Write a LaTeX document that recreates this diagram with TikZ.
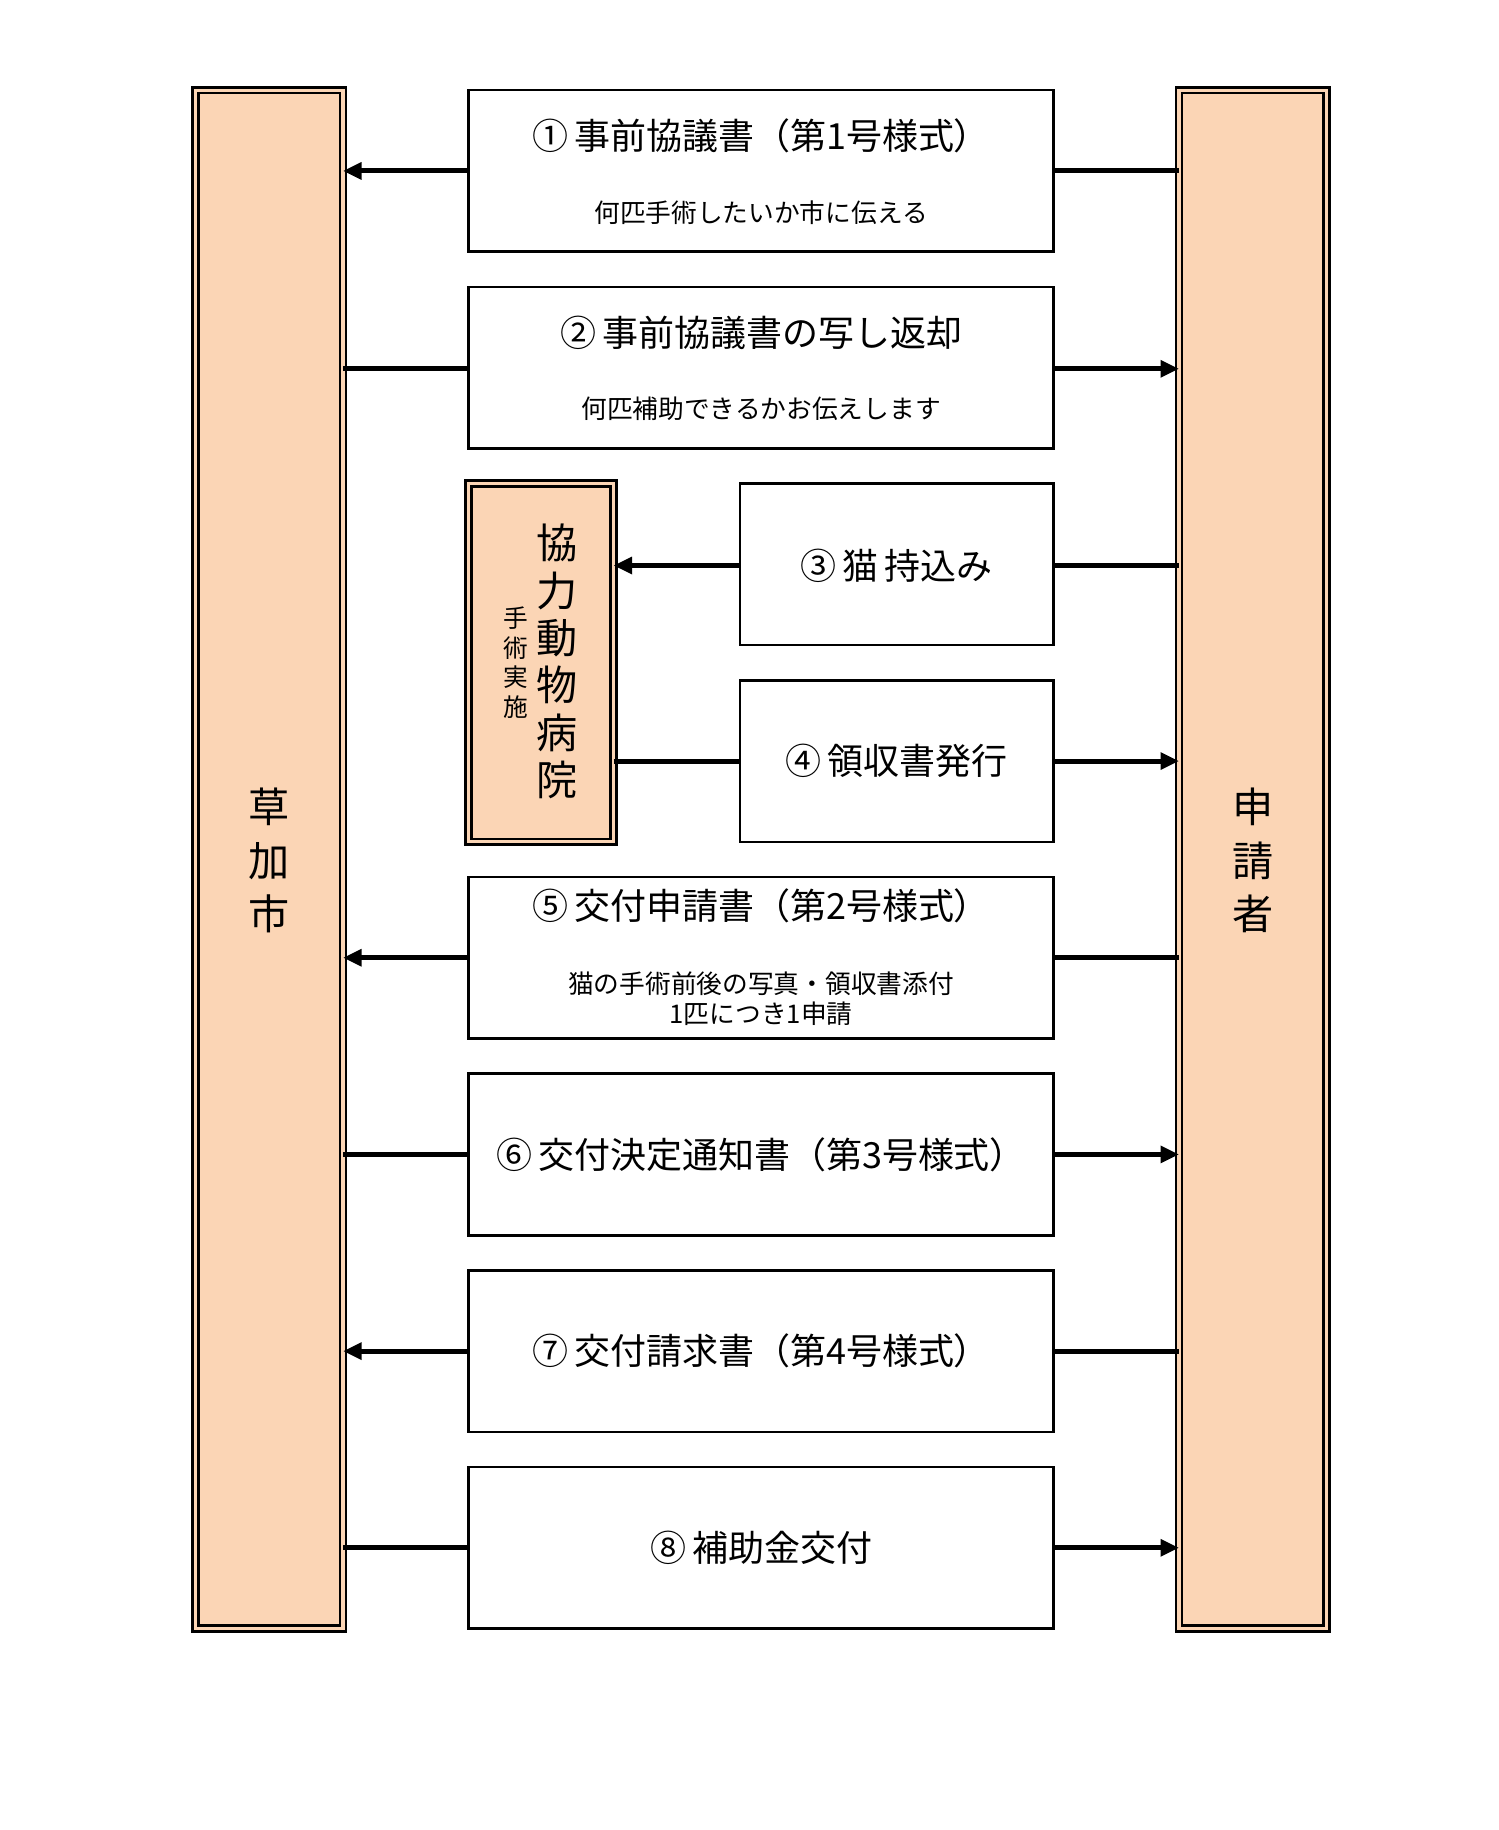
\documentclass[tikz,border=0pt]{standalone}
\usepackage{fontspec}
\setmainfont{Noto Sans CJK JP}
\usetikzlibrary{arrows.meta}
\definecolor{peach}{HTML}{FBD5B5}
\begin{document}
\begin{tikzpicture}[x=0.02cm,y=-0.02cm,
  box/.style={draw,line width=1.3pt,fill=white},
  bar/.style={draw,line width=1.3pt,fill=peach,double=peach,double distance=1.6pt},
  con/.style={line width=2.4pt},
  arr/.style={con,-{Triangle[length=9pt,width=8pt]}},
  big/.style={font=\fontsize{17.5}{20}\selectfont},
  small/.style={font=\fontsize{12.5}{15}\selectfont}]
\useasboundingbox[fill=white] (0,0) rectangle (1280,1563);
% bars
\draw[bar] (167,77) rectangle (293,1391);
\draw[bar] (1007,77) rectangle (1133,1391);
\node[font=\fontsize{20}{26}\selectfont,align=center] (L) at (230,735) {草\\加\\市};
\node[font=\fontsize{20}{26}\selectfont,align=center] (R) at (1070,735) {申\\請\\者};
% hospital
\draw[bar] (400,413) rectangle (524,719);
\node[font=\fontsize{20}{23}\selectfont,align=center] (H) at (476,565) {協\\力\\動\\物\\病\\院};
\node[font=\fontsize{12}{14.5}\selectfont,align=center] (HS) at (441,566) {手\\術\\実\\施};
% boxes
\draw[box] (400,77) rectangle (900,215);
\node[big] at (650,116) {①\,事前協議書（第1号様式）};
\node[small] at (650,182) {何匹手術したいか市に伝える};
\draw[box] (400,245) rectangle (900,383);
\node[big] at (650,284) {②\,事前協議書の写し返却};
\node[small] at (650,349) {何匹補助できるかお伝えします};
\draw[box] (632,413) rectangle (900,551);
\node[big] at (766,483) {③\,猫\,持込み};
\draw[box] (632,581) rectangle (900,719);
\node[big] at (766,650) {④\,領収書発行};
\draw[box] (400,749) rectangle (900,887);
\node[big] at (650,774) {⑤\,交付申請書（第2号様式）};
\node[small,align=center] at (650,853) {猫の手術前後の写真・領収書添付\\1匹につき1申請};
\draw[box] (400,917) rectangle (900,1055);
\node[big] at (650,986) {⑥\,交付決定通知書（第3号様式）};
\draw[box] (400,1085) rectangle (900,1223);
\node[big] at (650,1154) {⑦\,交付請求書（第4号様式）};
\draw[box] (400,1253) rectangle (900,1391);
\node[big] at (650,1322) {⑧\,補助金交付};
% connectors
\draw[arr] (400,146) -- (293,146); \draw[con] (900,146) -- (1007,146);
\draw[con] (293,315) -- (400,315); \draw[arr] (900,315) -- (1007,315);
\draw[arr] (632,483) -- (524,483); \draw[con] (900,483) -- (1007,483);
\draw[con] (524,650) -- (632,650); \draw[arr] (900,650) -- (1007,650);
\draw[arr] (400,818) -- (293,818); \draw[con] (900,818) -- (1007,818);
\draw[con] (293,986) -- (400,986); \draw[arr] (900,986) -- (1007,986);
\draw[arr] (400,1154) -- (293,1154); \draw[con] (900,1154) -- (1007,1154);
\draw[con] (293,1322) -- (400,1322); \draw[arr] (900,1322) -- (1007,1322);
\end{tikzpicture}
\end{document}
